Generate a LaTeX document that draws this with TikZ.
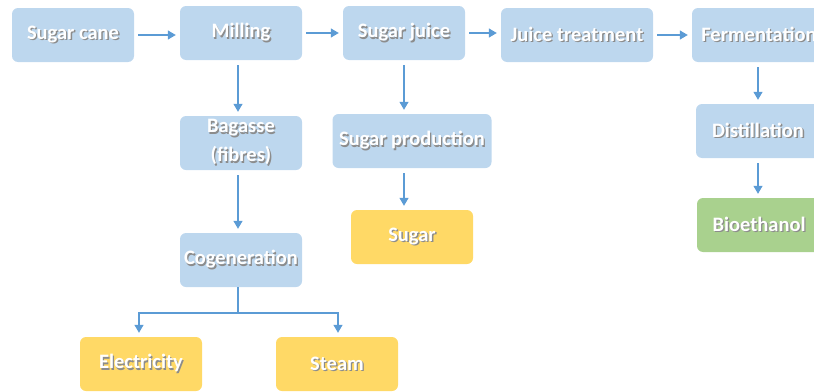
\documentclass[tikz,border=0pt]{standalone}
\usepackage{fontspec}
\setmainfont{Carlito}
\usetikzlibrary{arrows.meta}

% white text with a soft grey shadow
\newcommand{\shtext}[1]{\raisebox{-2pt}{\makebox[0pt][l]{\hspace{1.3pt}\raisebox{-1.3pt}{\color{black!45}#1}}{\color{white}#1}}}

\begin{document}
\begin{tikzpicture}
        [x=1pt, y=-1pt,
        % Styles
        stage/.style={rounded corners=6pt, minimum width=122pt, minimum height=54pt,
                inner sep=0pt, align=center, font=\fontsize{20.5}{29}\selectfont\bfseries},
        process/.style={stage, fill=procblue},
        product/.style={stage, fill=prodyellow},
        fuel/.style={stage, fill=fuelgreen},
        flow/.style={draw=flowblue, line width=1.2pt,
                -{Triangle[width=9pt,length=8pt]}, shorten >=4pt}]

        % Colors
        \definecolor{procblue}{HTML}{BDD7EE}
        \definecolor{prodyellow}{HTML}{FFD966}
        \definecolor{fuelgreen}{HTML}{A9D18E}
        \definecolor{flowblue}{HTML}{5B9BD5}

        \clip (0, 0) rectangle (814, 391);

        % First row
        \node[process] (cane) at (73, 35) {\shtext{Sugar cane}};
        \node[process] (milling) at (241, 33) {\shtext{Milling}};
        \node[process] (juice) at (404, 33) {\shtext{Sugar juice}};
        \node[process, minimum width=152pt] (treatment) at (577, 35) {\shtext{Juice treatment}};
        \node[process, minimum width=134pt] (fermentation) at (759, 35) {\shtext{Fermentation}};

        % Bagasse branch
        \node[process] (bagasse) at (241, 143) {\shtext{Bagasse}\\\shtext{(fibres)}};
        \node[process] (cogeneration) at (241, 260) {\shtext{Cogeneration}};
        \node[product] (electricity) at (141, 364) {\shtext{Electricity}};
        \node[product] (steam) at (337, 364) {\shtext{Steam}};

        % Sugar branch
        \node[process, minimum width=159pt] (production) at (412, 141) {\shtext{Sugar production}};
        \node[product] (sugar) at (412, 237) {\shtext{Sugar}};

        % Ethanol branch
        \node[process, minimum width=124pt] (distillation) at (758, 131) {\shtext{Distillation}};
        \node[fuel, minimum width=124pt] (bioethanol) at (759, 225) {\shtext{Bioethanol}};

        % Connectors
        \draw[flow, shorten <=4pt] (cane.east) -- (cane.east -| milling.west);
        \draw[flow, shorten <=4pt] (milling.east) -- (milling.east -| juice.west);
        \draw[flow, shorten <=4pt] (juice.east) -- (juice.east -| treatment.west);
        \draw[flow, shorten <=4pt] (treatment.east) -- (treatment.east -| fermentation.west);
        \draw[flow, shorten <=5pt] ([xshift=-3pt]milling.south) -- ([xshift=-3pt]bagasse.north);
        \draw[flow, shorten <=5pt] ([xshift=-3pt]bagasse.south) -- ([xshift=-3pt]cogeneration.north);
        \draw[flow, shorten <=5pt] (juice.south) -- (production.north -| juice.south);
        \draw[flow, shorten <=5pt] (production.south -| juice.south) -- (sugar.north -| juice.south);
        \draw[flow, shorten <=5pt] (fermentation.south -| distillation.north) -- (distillation.north);
        \draw[flow, shorten <=5pt] (distillation) -- (distillation.south |- bioethanol.north);
        \coordinate (split) at (238, 313);
        \draw[flow] ([xshift=-3pt]cogeneration.south) -- (split) -| ([xshift=-2pt]electricity.north);
        \draw[flow] (split) -| ([xshift=1pt]steam.north);
\end{tikzpicture}
\end{document}
